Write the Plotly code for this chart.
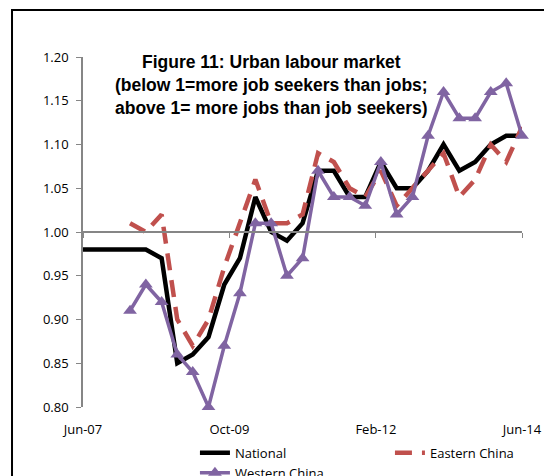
import plotly.graph_objects as go

# ---- data (quarterly, Jun-07 .. Jun-14) ----
quarters = [
    "2007-06-01", "2007-09-01", "2007-12-01",
    "2008-03-01", "2008-06-01", "2008-09-01", "2008-12-01",
    "2009-03-01", "2009-06-01", "2009-09-01", "2009-12-01",
    "2010-03-01", "2010-06-01", "2010-09-01", "2010-12-01",
    "2011-03-01", "2011-06-01", "2011-09-01", "2011-12-01",
    "2012-03-01", "2012-06-01", "2012-09-01", "2012-12-01",
    "2013-03-01", "2013-06-01", "2013-09-01", "2013-12-01",
    "2014-03-01", "2014-06-01",
]
national = [0.98, 0.98, 0.98, 0.98, 0.98, 0.97, 0.85, 0.86, 0.88, 0.94, 0.97,
            1.04, 1.00, 0.99, 1.01, 1.07, 1.07, 1.04, 1.04, 1.08, 1.05, 1.05,
            1.07, 1.10, 1.07, 1.08, 1.10, 1.11, 1.11]
eastern = [None, None, None, 1.01, 1.00, 1.02, 0.90, 0.87, 0.90, 0.96, 1.01,
           1.06, 1.01, 1.01, 1.02, 1.09, 1.08, 1.05, 1.04, 1.07, 1.03, 1.05,
           1.07, 1.09, 1.04, 1.06, 1.10, 1.08, 1.12]
western = [None, None, None, 0.91, 0.94, 0.92, 0.86, 0.84, 0.80, 0.87, 0.93,
           1.01, 1.01, 0.95, 0.97, 1.07, 1.04, 1.04, 1.03, 1.08, 1.02, 1.04,
           1.11, 1.16, 1.13, 1.13, 1.16, 1.17, 1.11]

x_ticks = ["2007-06-01", "2009-10-01", "2012-02-01", "2014-06-01"]
x_ticktext = ["Jun-07", "Oct-09", "Feb-12", "Jun-14"]
y_ticks = [0.80, 0.85, 0.90, 0.95, 1.00, 1.05, 1.10, 1.15, 1.20]
title_lines = ["Figure 11: Urban labour market",
               "(below 1=more job seekers than jobs;",
               "above 1= more jobs than job seekers)"]

AXIS_GREY = "#868686"
TICK_FONT = dict(family="Open Sans", size=13, color="#000000")

fig = go.Figure()

fig.add_trace(go.Scatter(
    x=quarters, y=national, name="National", mode="lines",
    line=dict(color="#000000", width=4.5), cliponaxis=False))
fig.add_trace(go.Scatter(
    x=quarters, y=eastern, name="Eastern China", mode="lines",
    line=dict(color="#C0504D", width=4.5, dash="17px,10px"), cliponaxis=False))
fig.add_trace(go.Scatter(
    x=quarters, y=western, name="Western China", mode="lines+markers",
    line=dict(color="#8064A2", width=3.5),
    marker=dict(symbol="triangle-up", size=12, color="#8064A2"),
    cliponaxis=False))
# helper trace so the crossing axis (at 1.00) is drawn
fig.add_trace(go.Scatter(
    x=quarters, y=[None] * len(quarters), xaxis="x2", showlegend=False,
    hoverinfo="skip", mode="lines"))

# page body has an 8px margin, so margins are reduced by 8 on left/top
fig.update_layout(
    width=552, height=476,
    margin=dict(l=75, r=38, t=49, b=77, autoexpand=False),
    paper_bgcolor="white", plot_bgcolor="white",
    font=TICK_FONT,
    xaxis=dict(
        type="date", range=[quarters[0], quarters[-1]],
        tickvals=x_ticks, ticktext=x_ticktext,
        showgrid=False, zeroline=False, showline=False,
        ticks="outside", ticklen=10, tickcolor="rgba(0,0,0,0)",
        tickfont=TICK_FONT,
    ),
    xaxis2=dict(
        type="date", overlaying="x", matches="x", anchor="free", position=0.5,
        tickvals=x_ticks, showticklabels=False,
        showgrid=False, zeroline=False,
        showline=True, linecolor=AXIS_GREY, linewidth=1.5,
        ticks="outside", ticklen=5, tickcolor=AXIS_GREY, tickwidth=1,
    ),
    yaxis=dict(
        range=[0.80, 1.20], tickvals=y_ticks, tickformat=".2f",
        showgrid=False, zeroline=False,
        showline=True, linecolor=AXIS_GREY, linewidth=1.5,
        ticks="outside", ticklen=5, tickcolor=AXIS_GREY,
        ticklabelstandoff=5, tickfont=TICK_FONT,
    ),
    legend=dict(
        orientation="h", x=0.255, xanchor="left", y=-0.088, yanchor="top",
        entrywidth=150, entrywidthmode="pixels",
        font=TICK_FONT, bgcolor="rgba(0,0,0,0)",
        tracegroupgap=0,
    ),
    showlegend=True,
)

# outer chart frame (only left/top edges visible in crop)
fig.add_shape(type="rect", xref="paper", yref="paper",
              x0=-0.1617, x1=1.3, y0=-0.5, y1=1.1343,
              line=dict(color="#000000", width=2), layer="below")

for txt, yy in zip(title_lines, [0.9857, 0.92, 0.854]):
    fig.add_annotation(text="<b>%s</b>" % txt, xref="paper", yref="paper",
                       x=0.43, y=yy, xanchor="center", yanchor="middle",
                       showarrow=False,
                       font=dict(family="Liberation Sans", size=17.5, color="#000000"))

fig.write_html("out.html")
